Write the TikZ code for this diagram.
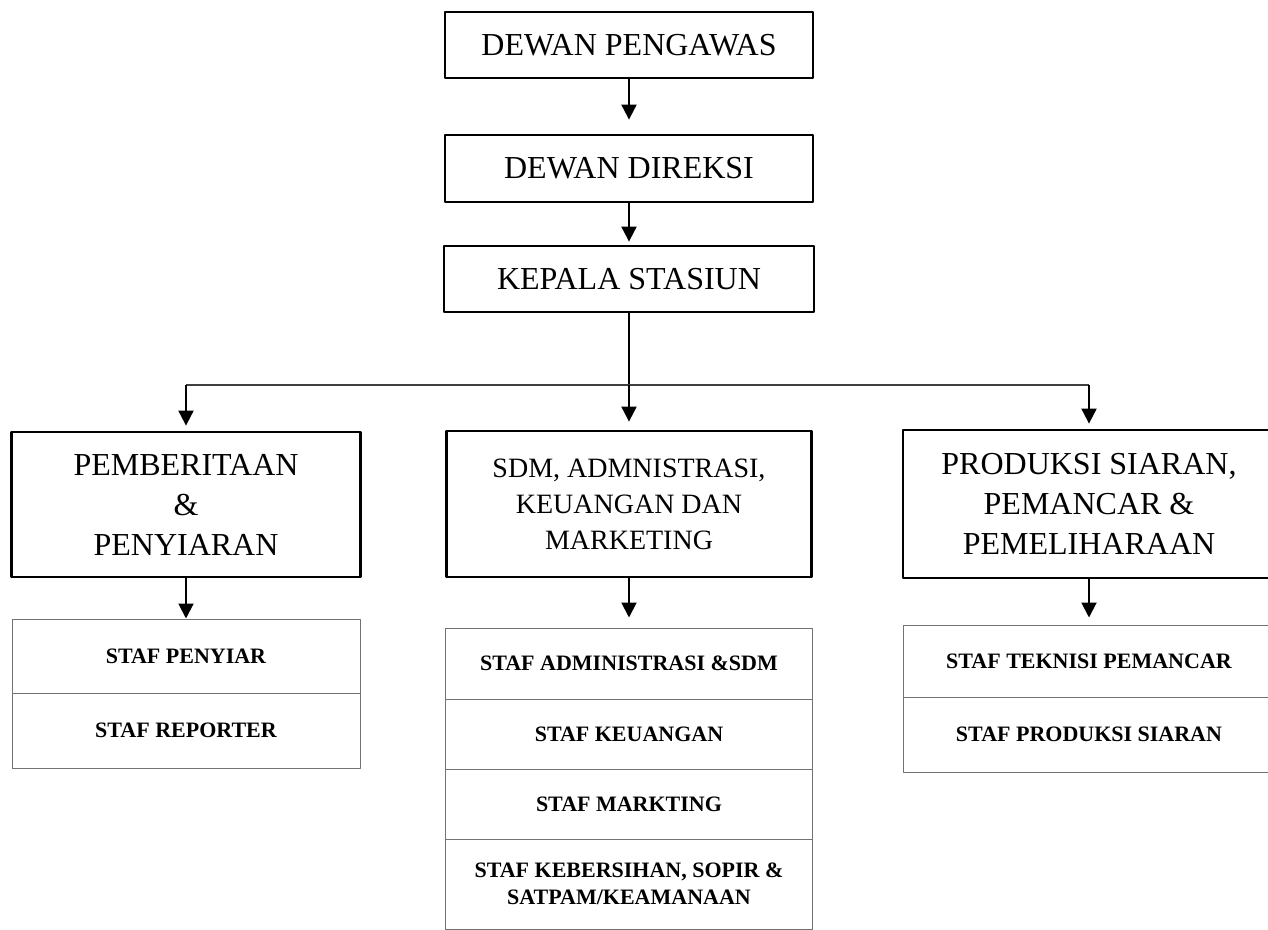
\documentclass[tikz,border=0pt]{standalone}
\usepackage{fontspec}
\setmainfont{Liberation Serif}
\usetikzlibrary{arrows.meta}

\begin{document}
\begin{tikzpicture}[x=.5pt, y=-.5pt, line join=round, >={Triangle[width=7.5pt,length=7.5pt]},
	box/.style={draw, line width=1.4pt, align=center, inner sep=0pt, font=\fontsize{16}{20}\selectfont},
	staf/.style={draw=black!55, line width=.5pt, align=center, inner sep=0pt, font=\fontsize{11}{13.5}\selectfont\bfseries},
	hub/.style={line width=1pt}]
	\useasboundingbox (0,0) rectangle (1268,930);
	%\draw[color=gray!50,dashed] (0,0) grid[step=50] (1268,930);
	% pimpinan
	\node[box, minimum width=184pt, minimum height=33pt] (pengawas) at (629,45) {DEWAN PENGAWAS};
	\node[box, minimum width=184pt, minimum height=33.5pt] (direksi) at (629,168.5) {DEWAN DIREKSI};
	\node[box, minimum width=185pt, minimum height=33pt] (kepala) at (629,279) {KEPALA STASIUN};
	% bagian
	\node[box, minimum width=174.5pt, minimum height=72.5pt] (berita) at (186,504.5) {PEMBERITAAN\\\&\\PENYIARAN};
	\node[box, font=\fontsize{14}{18}\selectfont, minimum width=182.5pt, minimum height=73pt] (sdm) at (629,504) {SDM, ADMNISTRASI,\\KEUANGAN DAN\\MARKETING};
	\node[box, minimum width=186pt, minimum height=74pt] (produksi) at (1089,504) {PRODUKSI SIARAN,\\PEMANCAR \&\\PEMELIHARAAN};
	% staf
	\node[staf, minimum width=174pt, minimum height=37pt] (penyiar) at (186,656) {STAF PENYIAR};
	\node[staf, minimum width=174pt, minimum height=37.5pt] (reporter) at (186,730.5) {STAF REPORTER};
	\node[staf, minimum width=183.5pt, minimum height=35.5pt] (adm) at (629,663.5) {STAF ADMINISTRASI \&SDM};
	\node[staf, minimum width=183.5pt, minimum height=35pt] (keuangan) at (629,734) {STAF KEUANGAN};
	\node[staf, minimum width=183.5pt, minimum height=35pt] (marketing) at (629,804) {STAF MARKTING};
	\node[staf, minimum width=183.5pt, minimum height=45pt] (kebersihan) at (629,884) {STAF KEBERSIHAN, SOPIR \&\\SATPAM/KEAMANAAN};
	\node[staf, minimum width=186pt, minimum height=36pt] (teknisi) at (1089,661) {STAF TEKNISI PEMANCAR};
	\node[staf, minimum width=186pt, minimum height=37.5pt] (siaran) at (1089,734.5) {STAF PRODUKSI SIARAN};
	% garis
	\coordinate (bus) at (629,385);
	\draw[hub,->,shorten >=7pt] (pengawas) -- (direksi);
	\draw[hub,->,shorten >=1.5pt] (direksi) -- (kepala);
	\draw[hub] (kepala) -- (bus);
	\draw[black!75, line width=.6pt] (berita.north |- bus) -- (produksi.north |- bus);
	\draw[hub,->,shorten >=4pt] (bus) -- (sdm);
	\foreach \n in {berita, produksi} \draw[hub,->,shorten >=2.5pt] (\n.north |- bus) -- (\n);
	\draw[hub,->] (berita) -- (penyiar);
	\draw[hub,->,shorten >=5pt] (sdm) -- (adm);
	\draw[hub,->,shorten >=3.5pt] (produksi) -- (teknisi);
\end{tikzpicture}
\end{document}
